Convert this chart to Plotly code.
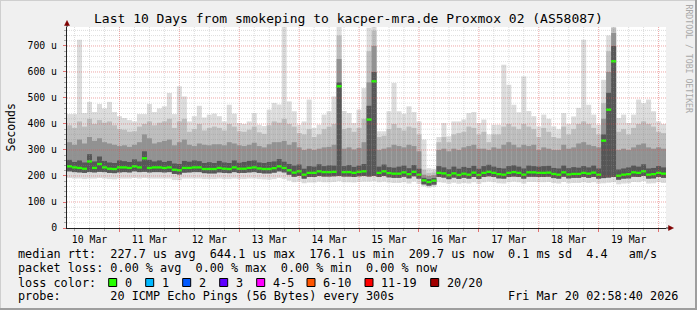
import plotly.graph_objects as go
import pandas as pd

# ---------------- data ----------------
title_text = "Last 10 Days from smokeping to kacper-mra.de Proxmox 02 (AS58087)"
t_start = "2026-03-10 02:58:40"
t_end = "2026-03-20 02:58:40"
times = pd.date_range("2026-03-10 04:00", periods=120, freq="2h")

day_labels = ["10 Mar", "11 Mar", "12 Mar", "13 Mar", "14 Mar",
              "15 Mar", "16 Mar", "17 Mar", "18 Mar", "19 Mar"]
day_label_times = pd.date_range("2026-03-10 12:00", periods=10, freq="D")

ytick_vals = [0, 100, 200, 300, 400, 500, 600, 700]
ytick_text = ["0", "100 u", "200 u", "300 u", "400 u", "500 u", "600 u", "700 u"]

# median rtt (microseconds)
med = [237,233,231,228,256,231,246,233,228,227,233,233,231,237,233,268,231,233,233,231,233,224,222,231,231,233,233,227,227,227,
       231,228,227,233,228,228,231,233,229,227,227,230,237,231,222,213,218,205,212,212,218,215,215,216,545,215,215,212,216,218,
       417,564,212,218,211,209,209,214,207,216,205,183,177,182,212,210,203,210,204,209,205,213,204,212,216,212,207,205,212,215,
       212,205,214,214,212,212,213,208,205,214,206,208,208,212,209,213,205,336,455,641,201,205,207,214,212,218,205,207,212,209]

# top of the lightest smoke
hi = [438,438,724,442,485,446,477,460,485,446,430,423,415,410,438,438,477,446,460,468,519,438,545,506,410,430,470,425,436,440,
      430,410,474,440,404,400,410,442,397,392,455,481,475,775,487,449,397,410,494,385,397,436,449,506,775,450,442,404,455,538,
      770,775,372,372,449,558,449,439,468,446,410,340,230,228,350,404,353,410,410,417,442,446,404,417,360,397,397,628,551,474,
      445,583,450,430,391,436,420,391,380,442,400,429,462,724,474,436,397,570,740,775,423,436,404,436,494,480,494,449,410,400]

# top of medium smoke
mid = [395,385,410,390,420,400,415,405,410,395,380,378,370,372,390,400,410,395,405,410,420,385,410,420,370,380,400,375,385,390,
       385,375,400,390,372,370,378,390,368,362,395,410,405,420,400,390,365,360,380,350,360,380,390,400,740,380,385,370,385,420,
       680,760,350,355,380,400,385,375,390,385,360,225,212,214,330,350,330,360,365,370,390,385,360,370,330,360,360,390,400,390,
       380,400,390,380,350,385,370,350,345,390,360,380,400,410,400,385,360,480,680,770,370,380,360,385,400,410,400,390,370,365]

# top of dark smoke
dark = [330,320,340,325,350,335,345,330,325,320,315,318,312,320,330,360,345,325,330,335,340,318,330,340,320,315,325,320,318,322,
        322,318,330,325,318,315,320,328,315,310,322,330,330,335,320,330,310,300,305,300,305,310,312,320,650,305,310,302,308,330,
        560,700,300,305,310,320,315,310,320,315,295,205,200,203,300,305,295,305,300,310,315,320,305,305,300,310,305,320,330,320,
        310,320,315,320,300,310,305,300,300,320,305,310,325,330,320,315,310,420,600,750,300,305,300,310,320,325,310,305,310,305]

# top of darkest core
core = [262,254,260,252,284,256,275,258,252,250,260,257,254,264,256,295,262,256,260,254,258,248,246,258,255,260,257,250,253,250,
        258,252,250,260,251,254,258,260,252,250,254,256,265,255,246,240,244,228,238,236,245,238,241,240,560,238,242,235,240,246,
        470,600,236,244,234,232,236,240,230,242,228,193,188,192,238,233,226,236,228,235,231,239,228,238,243,236,231,229,238,241,
        236,229,240,238,236,238,239,231,229,240,230,234,232,238,233,240,229,360,520,700,225,229,233,240,236,245,229,231,238,233]

# bottom of the grey core
lo_core = [218,215,214,212,215,214,216,215,212,211,214,215,214,218,215,216,214,215,215,214,215,208,206,213,214,215,215,211,210,210,
           214,212,211,215,212,212,214,215,212,210,210,213,218,214,205,197,200,190,196,196,200,198,198,199,200,198,198,196,199,200,
           198,200,196,200,195,193,193,197,191,199,190,168,163,167,196,194,188,194,189,193,190,196,189,196,199,196,191,190,196,198,
           196,190,197,197,196,196,197,192,190,197,191,193,193,196,193,196,190,192,194,196,186,190,191,197,196,200,190,191,196,193]

# bottom of the lightest smoke
lo = [192,190,190,188,190,190,192,190,188,187,190,190,190,192,190,192,190,190,190,190,190,185,184,190,190,190,190,188,188,188,
      190,188,188,190,188,188,190,190,188,187,186,188,192,188,182,176,178,172,175,175,178,176,176,177,180,176,176,175,177,178,
      178,180,176,178,175,173,173,176,171,178,170,160,155,158,176,174,170,174,170,173,171,176,170,176,178,176,172,171,176,178,
      176,171,177,177,176,176,177,173,171,177,172,173,173,176,173,176,171,172,174,176,168,171,172,177,176,180,171,172,176,173]

rtt_avg, rtt_max, rtt_min, rtt_now = "227.7", "644.1", "176.1", "209.7"
rtt_sd, rtt_ams = "0.1", "4.4"
loss_avg, loss_max, loss_min, loss_now = "0.00", "0.00", "0.00", "0.00"
loss_labels = ["0", "1", "2", "3", "4-5", "6-10", "11-19", "20/20"]
loss_colors = ["#26ff00", "#00b8ff", "#0059ff", "#5e00ff", "#ff00ff", "#ff5500", "#ff0000", "#a10000"]
probe_text = "20 ICMP Echo Pings (56 Bytes) every 300s"
stamp_text = "Fri Mar 20 02:58:40 2026"

# ---------------- geometry / style ----------------
W, H = 697, 310
ML, MR, MT, MB = 67, 31, 27, 82
PW = W - ML - MR
PH = H - MT - MB
FONT = "DejaVu Sans Mono"
STEP_MS = 2 * 3600 * 1000
Y_MAX = 773


def px(x):
    return (x - ML) / PW


def py(y):
    return (H - MB - y) / PH


def nb(s):
    return s.replace(" ", "\u00a0")


fig = go.Figure()


def band(base, top, color):
    fig.add_trace(go.Bar(
        x=times, base=base, y=[t - b for t, b in zip(top, base)],
        width=STEP_MS, marker=dict(color=color, line=dict(width=0)),
        hoverinfo="skip", showlegend=False))


band(lo, hi, "#dcdcdc")
band(lo_core, mid, "#bdbdbd")
band(lo_core, dark, "#929292")
band(lo_core, core, "#565656")

# median line (short green dashes per step)
MED_H = 9
fig.add_trace(go.Bar(
    x=times, base=[m - MED_H / 2 for m in med], y=[MED_H] * len(med),
    width=STEP_MS, marker=dict(color=loss_colors[0], line=dict(width=0)),
    hoverinfo="skip", showlegend=False))

# dummy trace for label axis
fig.add_trace(go.Scatter(x=[t_start, t_end], y=[None, None], xaxis="x2",
                         mode="lines", hoverinfo="skip", showlegend=False))

fig.update_layout(
    width=W, height=H,
    margin=dict(l=ML, r=MR, t=MT, b=MB, pad=0),
    paper_bgcolor="#f0f0f0", plot_bgcolor="#ffffff",
    barmode="overlay", showlegend=False,
    font=dict(family=FONT, color="#000000", size=10),
    xaxis=dict(
        type="date", range=[t_start, t_end],
        tick0="2026-03-10", dtick=86400000,
        showticklabels=False, showgrid=False,
        ticks="outside", ticklen=3, tickcolor="#e07070",
        minor=dict(dtick=21600000, tick0="2026-03-10", showgrid=False,
                   ticks="outside", ticklen=2, tickcolor="#aaaaaa"),
        showline=True, linecolor="#222222", linewidth=1,
        zeroline=False, fixedrange=True),
    xaxis2=dict(
        type="date", range=[t_start, t_end], overlaying="x", anchor="y",
        side="bottom", tickvals=list(day_label_times), ticktext=day_labels,
        showgrid=False, ticks="", showline=False, zeroline=False,
        tickfont=dict(family=FONT, size=9.8, color="#000000"),
        ticklabelstandoff=4, fixedrange=True),
    yaxis=dict(
        range=[0, Y_MAX], tickvals=ytick_vals, ticktext=ytick_text,
        showgrid=False,
        ticks="outside", ticklen=3, tickcolor="#e07070",
        minor=dict(dtick=20, showgrid=False, ticks="outside", ticklen=2,
                   tickcolor="#aaaaaa"),
        tickfont=dict(family=FONT, size=9.8, color="#000000"),
        ticklabelstandoff=4,
        showline=True, linecolor="#222222", linewidth=1,
        zeroline=False, fixedrange=True),
)

shapes = []
# grid drawn over the smoke (rrdtool style, translucent dotted)
minor_col = "rgba(143,143,143,0.30)"
major_col = "rgba(222,80,80,0.50)"
for t in pd.date_range("2026-03-10 06:00", "2026-03-20 00:00", freq="6h"):
    is_major = (t.hour == 0)
    shapes.append(dict(type="line", xref="x", yref="paper", x0=t, x1=t, y0=0, y1=1,
                       layer="above",
                       line=dict(color=major_col if is_major else minor_col, width=1, dash="1px,1px")))
for v in range(20, Y_MAX, 20):
    is_major = (v % 100 == 0)
    shapes.append(dict(type="line", xref="paper", yref="y", x0=0, x1=1, y0=v, y1=v,
                       layer="above",
                       line=dict(color=major_col if is_major else minor_col, width=1, dash="1px,1px")))

ann = []
ann.append(dict(text=nb(title_text), x=px(348.5), y=py(19), xref="paper", yref="paper",
                xanchor="center", yanchor="middle", showarrow=False,
                font=dict(family=FONT, size=13, color="#000000")))
ann.append(dict(text="Seconds", x=px(10), y=py(127.5), xref="paper", yref="paper",
                xanchor="center", yanchor="middle", showarrow=False, textangle=-90,
                font=dict(family=FONT, size=11.5, color="#000000")))
ann.append(dict(text=nb("RRDTOOL / TOBI OETIKER"), x=px(688.5), y=py(59), xref="paper", yref="paper",
                xanchor="center", yanchor="middle", showarrow=False, textangle=90,
                font=dict(family=FONT, size=8.2, color="#a8a8a8")))

LEG_FONT = dict(family=FONT, size=11.8, color="#000000")
rows_y = [254.3, 268.3, 282.5, 296]
line1 = (f"median rtt:  {rtt_avg} us avg  {rtt_max} us max  {rtt_min} us min  "
         f"{rtt_now} us now  {rtt_sd} ms sd  {rtt_ams}   am/s")
line2 = (f"packet loss: {loss_avg} % avg  {loss_max} % max  {loss_min} % min  {loss_now} % now")
line3 = "loss color:"
line4 = f"probe:       {probe_text}"
for txt, yy in zip([line1, line2, line3, line4], rows_y):
    ann.append(dict(text=nb(txt), x=px(16), y=py(yy), xref="paper", yref="paper",
                    xanchor="left", yanchor="middle", showarrow=False, font=LEG_FONT))
ann.append(dict(text=nb(stamp_text), x=px(680.5), y=py(rows_y[3]), xref="paper", yref="paper",
                xanchor="right", yanchor="middle", showarrow=False, font=LEG_FONT))

box_x = [108.7, 145.7, 182.7, 219.7, 256.7, 307, 365, 430.7]
for bx, lab, col in zip(box_x, loss_labels, loss_colors):
    shapes.append(dict(type="rect", xref="paper", yref="paper",
                       x0=px(bx), x1=px(bx + 8), y0=py(rows_y[2] + 4), y1=py(rows_y[2] - 4),
                       fillcolor=col, line=dict(color="#000000", width=1)))
    ann.append(dict(text=nb(lab), x=px(bx + 14), y=py(rows_y[2]), xref="paper", yref="paper",
                    xanchor="left", yanchor="middle", showarrow=False, font=LEG_FONT))

# axis extensions & arrows
shapes.append(dict(type="line", xref="paper", yref="paper", x0=px(666), x1=px(670),
                   y0=0, y1=0, line=dict(color="#222222", width=1)))
shapes.append(dict(type="line", xref="paper", yref="paper", x0=0, x1=0,
                   y0=py(27), y1=py(24), line=dict(color="#222222", width=1)))
shapes.append(dict(type="path", xref="paper", yref="paper",
                   path=f"M {px(64.5)} {py(25.5)} L {px(69.5)} {py(25.5)} L {px(67)} {py(20.5)} Z",
                   fillcolor="#7f0000", line=dict(color="#7f0000", width=0.5)))
shapes.append(dict(type="path", xref="paper", yref="paper",
                   path=f"M {px(668.5)} {py(225.5)} L {px(668.5)} {py(230.5)} L {px(673.5)} {py(228)} Z",
                   fillcolor="#7f0000", line=dict(color="#7f0000", width=0.5)))

# 3D frame
shapes.append(dict(type="line", xref="paper", yref="paper", x0=px(0), x1=px(W),
                   y0=py(0.5), y1=py(0.5), line=dict(color="#cfcfcf", width=1)))
shapes.append(dict(type="line", xref="paper", yref="paper", x0=px(0.5), x1=px(0.5),
                   y0=py(0), y1=py(H), line=dict(color="#cfcfcf", width=1)))
shapes.append(dict(type="line", xref="paper", yref="paper", x0=px(0), x1=px(W),
                   y0=py(H - 1), y1=py(H - 1), line=dict(color="#9e9e9e", width=2)))
shapes.append(dict(type="line", xref="paper", yref="paper", x0=px(W - 1), x1=px(W - 1),
                   y0=py(0), y1=py(H), line=dict(color="#9e9e9e", width=2)))

fig.update_layout(annotations=ann, shapes=shapes)
fig.write_html("out.html")
